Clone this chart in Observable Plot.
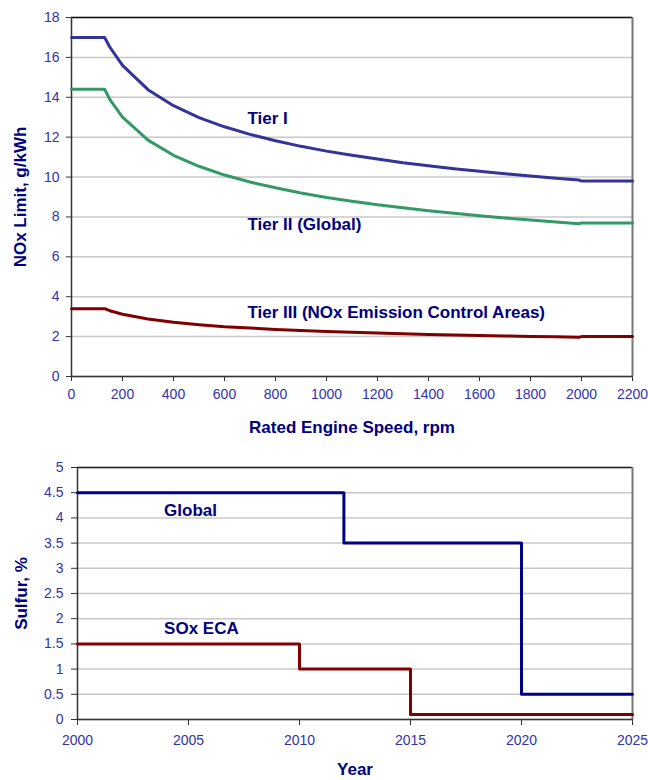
<!DOCTYPE html>
<html>
<head>
<meta charset="utf-8">
<script src="https://cdn.jsdelivr.net/npm/d3@7"></script>
<script src="https://cdn.jsdelivr.net/npm/@observablehq/plot@0.6"></script>
<style>
  body { margin: 0; background: #fff; }
  #charts { width: 648px; }
  #charts svg { display: block; overflow: visible; }
  [aria-label="x-axis label"] text, [aria-label="y-axis label"] text {
    font-weight: bold; font-size: 17px; fill: #000080;
  }
</style>
</head>
<body>
<div id="charts"></div>
<script>
// NOx limits by rated engine speed (rpm)
const speeds  = [0, 130, 150, 200, 300, 400, 500, 600, 700, 800, 900, 1000, 1100, 1200, 1300, 1400, 1500, 1600, 1700, 1800, 1900, 1990, 2000, 2200];
const tierI   = [17.0, 17.0, 16.52, 15.60, 14.38, 13.58, 12.98, 12.52, 12.14, 11.82, 11.54, 11.30, 11.09, 10.90, 10.72, 10.57, 10.42, 10.29, 10.17, 10.05, 9.94, 9.85, 9.8, 9.8];
const tierII  = [14.4, 14.4, 13.90, 13.01, 11.85, 11.09, 10.54, 10.10, 9.75, 9.46, 9.20, 8.98, 8.79, 8.61, 8.46, 8.31, 8.18, 8.06, 7.95, 7.85, 7.75, 7.66, 7.7, 7.7];
const tierIII = [3.4, 3.4, 3.30, 3.12, 2.88, 2.72, 2.60, 2.50, 2.43, 2.36, 2.31, 2.26, 2.22, 2.18, 2.14, 2.11, 2.08, 2.06, 2.03, 2.01, 1.99, 1.97, 2.0, 2.0];
const noxTicksX = d3.range(0, 2201, 200);
const noxTicksY = d3.range(0, 19, 2);
const noxLabels = [
  {text: "Tier I", x: 690, y: 12.95},
  {text: "Tier II (Global)", x: 690, y: 7.6},
  {text: "Tier III (NOx Emission Control Areas)", x: 690, y: 3.2}
];

// Fuel sulfur limits by year (step changes)
const globalYears = [2000, 2012, 2020, 2025];
const globalSulfur = [4.5, 3.5, 0.5, 0.5];
const ecaYears = [2000, 2010, 2015, 2025];
const ecaSulfur = [1.5, 1.0, 0.1, 0.1];
const soxTicksX = [2000, 2005, 2010, 2015, 2020, 2025];
const soxTicksY = d3.range(0, 5.01, 0.5);
const soxLabels = [
  {text: "Global", x: 2003.9, y: 4.15},
  {text: "SOx ECA", x: 2003.9, y: 1.8}
];

const font = "'Liberation Sans', Arial, sans-serif";
const tickFill = "#3333aa";
const labelFill = "#000080";
const plain = d => String(d);

const nox = speeds.flatMap((s, i) => [
  {speed: s, value: tierI[i], tier: "Tier I"},
  {speed: s, value: tierII[i], tier: "Tier II"},
  {speed: s, value: tierIII[i], tier: "Tier III"}
]);

const noxChart = Plot.plot({
  width: 648, height: 445,
  marginLeft: 71, marginRight: 16, marginTop: 17, marginBottom: 69,
  style: {fontFamily: font, background: "#fff", overflow: "visible"},
  x: {domain: [0, 2200]},
  y: {domain: [0, 18]},
  color: {domain: ["Tier I", "Tier II", "Tier III"], range: ["#333399", "#339966", "#800000"]},
  marks: [
    Plot.gridY(noxTicksY, {stroke: "#c8c8c8", strokeOpacity: 1, strokeWidth: 1.5}),
    Plot.ruleY([18], {stroke: "#111", strokeWidth: 1.5}),
    Plot.ruleX([2200], {stroke: "#777", strokeWidth: 2}),
    Plot.ruleX([0], {stroke: "#333", strokeWidth: 1.5}),
    Plot.ruleY([0], {stroke: "#333", strokeWidth: 1.5}),
    Plot.axisX(noxTicksX, {tickSize: 5, tickPadding: 8, stroke: "#333", fill: tickFill, fontSize: 14,
      tickFormat: plain, label: "Rated Engine Speed, rpm", labelArrow: "none",
      labelAnchor: "center", labelOffset: 56}),
    Plot.axisY(noxTicksY, {tickSize: 5, tickPadding: 7, stroke: "#333", fill: tickFill, fontSize: 14,
      tickFormat: plain, label: "NOx Limit, g/kWh", labelArrow: "none",
      labelAnchor: "center", labelOffset: 58}),
    Plot.line(nox, {x: "speed", y: "value", z: "tier", stroke: "tier", strokeWidth: 3}),
    Plot.text(noxLabels, {x: "x", y: "y", text: "text", textAnchor: "start", fill: labelFill,
      fontSize: 17, fontWeight: "bold"})
  ]
});

const sox = [
  ...globalYears.map((y, i) => ({year: y, value: globalSulfur[i], zone: "Global"})),
  ...ecaYears.map((y, i) => ({year: y, value: ecaSulfur[i], zone: "SOx ECA"}))
];

const soxChart = Plot.plot({
  width: 648, height: 335,
  marginLeft: 77, marginRight: 16, marginTop: 22, marginBottom: 61,
  style: {fontFamily: font, background: "#fff", overflow: "visible"},
  x: {domain: [2000, 2025]},
  y: {domain: [0, 5]},
  color: {domain: ["Global", "SOx ECA"], range: ["#000080", "#800000"]},
  marks: [
    Plot.gridY(soxTicksY, {stroke: "#c8c8c8", strokeOpacity: 1, strokeWidth: 1.5}),
    Plot.ruleY([5], {stroke: "#222", strokeWidth: 1.5}),
    Plot.ruleX([2025], {stroke: "#777", strokeWidth: 2}),
    Plot.ruleX([2000], {stroke: "#333", strokeWidth: 1.5}),
    Plot.ruleY([0], {stroke: "#333", strokeWidth: 1.5}),
    Plot.axisX(soxTicksX, {tickSize: 6, tickPadding: 10, stroke: "#333", fill: tickFill, fontSize: 14,
      tickFormat: plain, label: "Year", labelArrow: "none", labelAnchor: "center", labelOffset: 55}),
    Plot.axisY(soxTicksY, {tickSize: 6, tickPadding: 8, stroke: "#333", fill: tickFill, fontSize: 14,
      tickFormat: plain, label: "Sulfur, %", labelArrow: "none", labelAnchor: "center", labelOffset: 63}),
    Plot.line(sox, {x: "year", y: "value", z: "zone", stroke: "zone", strokeWidth: 3, curve: "step-after"}),
    Plot.text(soxLabels, {x: "x", y: "y", text: "text", textAnchor: "start", fill: labelFill,
      fontSize: 17, fontWeight: "bold"})
  ]
});

document.getElementById("charts").append(noxChart, soxChart);
</script>
</body>
</html>
